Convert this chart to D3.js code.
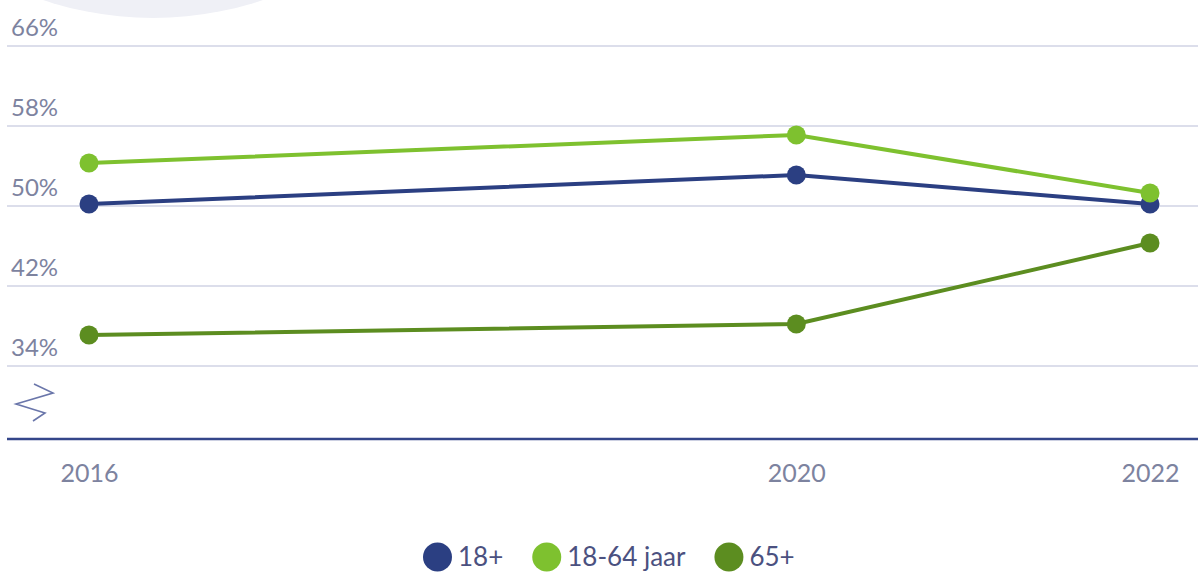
<!DOCTYPE html>
<html><head><meta charset="utf-8">
<script src="https://cdn.jsdelivr.net/npm/d3@7"></script>
<style>
html,body{margin:0;padding:0;background:#fff;}
svg{display:block;font-family:Lato,"Noto Sans",sans-serif;}
</style></head>
<body>
<svg id="chart" width="1198" height="572"></svg>
<script>
const years = [2016, 2020, 2022];
const seriesNames = ["18+", "18-64 jaar", "65+"];
const values18plus = [50.2, 53.1, 50.2];
const values18to64 = [54.3, 57.1, 51.3];
const values65plus = [37.1, 38.2, 46.3];
const yTicks = [34, 42, 50, 58, 66];
const colors = ["#2b3f82", "#7ec12f", "#5c8d20"];

const svgEl = d3.select("#chart");
const series = [values18plus, values18to64, values65plus].map((v, i) => ({
  name: seriesNames[i], color: colors[i], points: years.map((yr, j) => ({year: yr, value: v[j]}))
}));

// decorative background circle
svgEl.append("circle").attr("cx", 153).attr("cy", -327).attr("r", 345).attr("fill", "#eff0f6");

const x = d3.scaleLinear().domain([2016, 2022]).range([89, 1150]);
const y = d3.scaleLinear().domain([34, 66]).range([366, 46]);

// gridlines + labels
const grid = svgEl.append("g");
grid.selectAll("line").data(yTicks).join("line")
  .attr("x1", 7).attr("x2", 1198)
  .attr("y1", d => y(d)).attr("y2", d => y(d))
  .attr("stroke", "#dcdeeb").attr("stroke-width", 2);
grid.selectAll("text").data(yTicks).join("text")
  .attr("x", 11).attr("y", d => y(d) - 10)
  .attr("fill", "#7d839f").attr("font-size", 24)
  .text(d => d + "%");

// axis break zigzag
svgEl.append("polyline")
  .attr("points", "34,384 53,393 16,404 45,413 33,421")
  .attr("fill", "none").attr("stroke", "#6a76aa").attr("stroke-width", 1.6);

// baseline
svgEl.append("line").attr("x1", 7).attr("x2", 1198).attr("y1", 439).attr("y2", 439)
  .attr("stroke", "#34468a").attr("stroke-width", 2.5);

// x labels via axis
const xAxis = d3.axisBottom(x).tickValues(years).tickFormat(d3.format("d")).tickSize(0).tickPadding(0);
const xg = svgEl.append("g").attr("transform", "translate(0,462)").call(xAxis);
xg.select(".domain").remove();
xg.selectAll("text").attr("fill", "#7d839f").attr("font-size", 25).attr("font-family", "Lato,'Noto Sans',sans-serif").attr("dy", "0.8em");

// lines
const line = d3.line().x(d => x(d.year)).y(d => y(d.value));
const sg = svgEl.append("g").selectAll("g").data(series).join("g");
sg.append("path").attr("d", d => line(d.points)).attr("fill", "none")
  .attr("stroke", d => d.color).attr("stroke-width", 4);
sg.selectAll("circle").data(d => d.points.map(p => ({...p, color: d.color}))).join("circle")
  .attr("cx", d => x(d.year)).attr("cy", d => y(d.value)).attr("r", 9.5).attr("fill", d => d.color);

// legend
const leg = svgEl.append("g");
let cx = 0;
series.forEach(s => {
  const g = leg.append("g");
  g.append("circle").attr("r", 14.5).attr("cx", 14.5).attr("cy", 0).attr("fill", s.color);
  const t = g.append("text").attr("x", 35).attr("y", 9).attr("font-size", 26).attr("fill", "#4b5180").text(s.name);
  const w = 35 + t.node().getComputedTextLength();
  g.attr("transform", `translate(${cx},0)`);
  cx += w + 29;
});
leg.attr("transform", `translate(${423},557)`);
</script>
</body></html>
